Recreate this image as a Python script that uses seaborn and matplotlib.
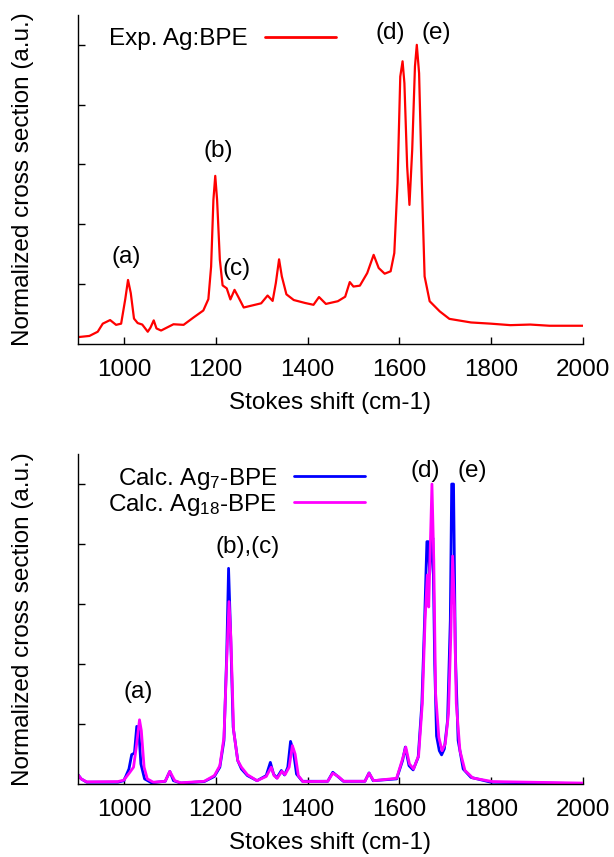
import matplotlib
matplotlib.use("Agg")
import matplotlib.pyplot as plt
import seaborn as sns

exp_shift = [900, 925, 943, 954, 970, 983, 994, 1003, 1009, 1015, 1022, 1030, 1040,
             1052, 1058, 1065, 1071, 1081, 1108, 1130, 1152, 1173, 1184, 1190, 1195,
             1199, 1203, 1209, 1215, 1224, 1232, 1241, 1249, 1261, 1280, 1299, 1313,
             1324, 1331, 1338, 1344, 1354, 1370, 1395, 1413, 1425, 1440, 1466, 1482,
             1492, 1500, 1514, 1530, 1544, 1555, 1568, 1581, 1589, 1596, 1602, 1607,
             1611, 1617, 1622, 1628, 1634, 1638, 1643, 1649, 1655, 1666, 1688, 1709,
             1756, 1799, 1842, 1885, 1927, 2000]
exp_sig = [0.023, 0.027, 0.041, 0.068, 0.080, 0.064, 0.068, 0.150, 0.214, 0.170,
           0.085, 0.070, 0.065, 0.041, 0.055, 0.079, 0.052, 0.045, 0.066, 0.064,
           0.089, 0.112, 0.150, 0.259, 0.482, 0.562, 0.482, 0.282, 0.196, 0.186,
           0.149, 0.181, 0.158, 0.122, 0.129, 0.136, 0.162, 0.144, 0.204, 0.283,
           0.226, 0.166, 0.147, 0.137, 0.131, 0.157, 0.134, 0.143, 0.158, 0.207,
           0.192, 0.195, 0.237, 0.298, 0.254, 0.235, 0.243, 0.304, 0.538, 0.894,
           0.945, 0.872, 0.594, 0.465, 0.649, 0.928, 1.000, 0.905, 0.538, 0.226,
           0.143, 0.109, 0.084, 0.072, 0.068, 0.063, 0.065, 0.061, 0.061]

# Calculated spectra (lower panel)
ag7_shift = [900, 907, 919, 987, 1000, 1011, 1017, 1023, 1028, 1032, 1037, 1045,
             1060, 1090, 1100, 1108, 1124, 1175, 1197, 1209, 1218, 1224, 1228, 1232,
             1238, 1248, 1256, 1269, 1290, 1310, 1319, 1326, 1333, 1343, 1350, 1357,
             1363, 1369, 1376, 1389, 1444, 1455, 1466, 1478, 1525, 1534, 1543, 1594,
             1607, 1613, 1621, 1630, 1641, 1649, 1655, 1660, 1663, 1666, 1670, 1673,
             1677, 1681, 1687, 1692, 1698, 1705, 1711, 1714, 1718, 1722, 1728, 1739,
             1756, 1799, 2000]
ag7_sig = [0.031, 0.017, 0.006, 0.006, 0.011, 0.050, 0.098, 0.103, 0.192, 0.190,
           0.067, 0.017, 0.004, 0.009, 0.042, 0.011, 0.003, 0.008, 0.025, 0.056,
           0.145, 0.435, 0.719, 0.524, 0.190, 0.078, 0.050, 0.028, 0.011, 0.028,
           0.072, 0.033, 0.020, 0.045, 0.030, 0.056, 0.142, 0.111, 0.033, 0.009,
           0.009, 0.039, 0.025, 0.009, 0.009, 0.037, 0.011, 0.017, 0.078, 0.123,
           0.061, 0.047, 0.089, 0.268, 0.546, 0.808, 0.808, 0.700, 0.800, 0.820,
           0.400, 0.160, 0.111, 0.097, 0.117, 0.212, 0.546, 1.000, 1.000, 0.435,
           0.145, 0.050, 0.022, 0.006, 0.001]

ag18_shift = [900, 907, 919, 987, 1000, 1013, 1021, 1027, 1034, 1038, 1044, 1051,
              1064, 1090, 1100, 1111, 1124, 1175, 1197, 1209, 1218, 1224, 1229, 1233,
              1239, 1248, 1256, 1269, 1290, 1310, 1321, 1327, 1334, 1344, 1351, 1360,
              1367, 1373, 1380, 1390, 1444, 1455, 1467, 1479, 1525, 1534, 1544, 1594,
              1607, 1614, 1622, 1631, 1642, 1650, 1656, 1661, 1664, 1667, 1671, 1675,
              1679, 1686, 1693, 1700, 1707, 1712, 1716, 1720, 1724, 1732, 1743, 1760,
              1803, 2000]
ag18_sig = [0.031, 0.017, 0.007, 0.008, 0.013, 0.039, 0.056, 0.123, 0.214, 0.178,
            0.056, 0.017, 0.006, 0.009, 0.042, 0.011, 0.004, 0.009, 0.028, 0.061,
            0.156, 0.412, 0.608, 0.490, 0.178, 0.078, 0.056, 0.031, 0.011, 0.025,
            0.056, 0.028, 0.019, 0.042, 0.031, 0.056, 0.128, 0.100, 0.028, 0.008,
            0.009, 0.036, 0.025, 0.009, 0.009, 0.036, 0.011, 0.019, 0.084, 0.123,
            0.067, 0.050, 0.095, 0.268, 0.546, 0.697, 0.590, 0.769, 1.000, 0.747,
            0.301, 0.156, 0.111, 0.134, 0.234, 0.490, 0.760, 0.590, 0.268, 0.111,
            0.045, 0.020, 0.008, 0.003]

x_ticks = [1000, 1200, 1400, 1600, 1800, 2000]
y_ticks = [0.2, 0.4, 0.6, 0.8, 1.0]

top_labels = [("(a)", 1005, 0.29), ("(b)", 1205, 0.645), ("(c)", 1246, 0.25),
              ("(d)", 1580, 1.04), ("(e)", 1680, 1.04)]
bottom_labels = [("(a)", 1031, 0.305), ("(b),(c)", 1270, 0.79),
                 ("(d)", 1656, 1.045), ("(e)", 1758, 1.045)]

sns.set_theme(style="white")
plt.rcParams["font.family"] = ["Liberation Sans", "DejaVu Sans"]
plt.rcParams["mathtext.default"] = "regular"
plt.rcParams["text.color"] = "black"
plt.rcParams["axes.labelcolor"] = "black"
plt.rcParams["xtick.color"] = "black"
plt.rcParams["ytick.color"] = "black"
FS = 17.5

fig = plt.figure(figsize=(6.14, 8.57), dpi=100)
ax1 = fig.add_axes([0.127, 0.5986, 0.8225, 0.384])
ax2 = fig.add_axes([0.127, 0.0852, 0.8225, 0.385])

sns.lineplot(x=exp_shift, y=exp_sig, ax=ax1, color="#ff0000", linewidth=1.6,
             label="Exp. Ag:BPE", estimator=None)
sns.lineplot(x=ag7_shift, y=ag7_sig, ax=ax2, color="#0000ff", linewidth=2.0,
             label="Calc. Ag$_7$-BPE", estimator=None)
sns.lineplot(x=ag18_shift, y=ag18_sig, ax=ax2, color="#ff00ff", linewidth=2.0,
             label="Calc. Ag$_{18}$-BPE", estimator=None)

for ax, labels, lx, ly in [(ax1, top_labels, 0.510, 0.96),
                           (ax2, bottom_labels, 0.568, 0.965)]:
    ax.set_xlim(900, 2000)
    ax.set_ylim(0, 1.1)
    ax.set_xticks(x_ticks)
    ax.set_yticks(y_ticks)
    ax.set_yticklabels([])
    ax.tick_params(axis="both", direction="in", length=5, width=1,
                   color="black", labelcolor="black", labelsize=FS, pad=11)
    ax.tick_params(axis="y", left=True)
    ax.tick_params(axis="x", bottom=True)
    for side in ["top", "right"]:
        ax.spines[side].set_visible(False)
    for side in ["left", "bottom"]:
        ax.spines[side].set_color("black")
        ax.spines[side].set_linewidth(1.0)
    ax.set_xlabel("Stokes shift (cm-1)", fontsize=FS, labelpad=8, color="black")
    ax.set_ylabel("Normalized cross section (a.u.)", fontsize=FS, labelpad=21,
                  color="black")
    for txt, xx, yy in labels:
        ax.text(xx, yy, txt, ha="center", va="center", fontsize=FS, color="black")
    leg = ax.legend(loc="upper right", bbox_to_anchor=(lx, ly), frameon=False,
                    markerfirst=False, fontsize=FS, handlelength=2.9,
                    handletextpad=0.7, labelspacing=0.0, borderpad=0,
                    borderaxespad=0)
    for t in leg.get_texts():
        t.set_color("black")
    for line in leg.get_lines():
        line.set_linewidth(2.0)

fig.savefig("out.png", dpi=100)
